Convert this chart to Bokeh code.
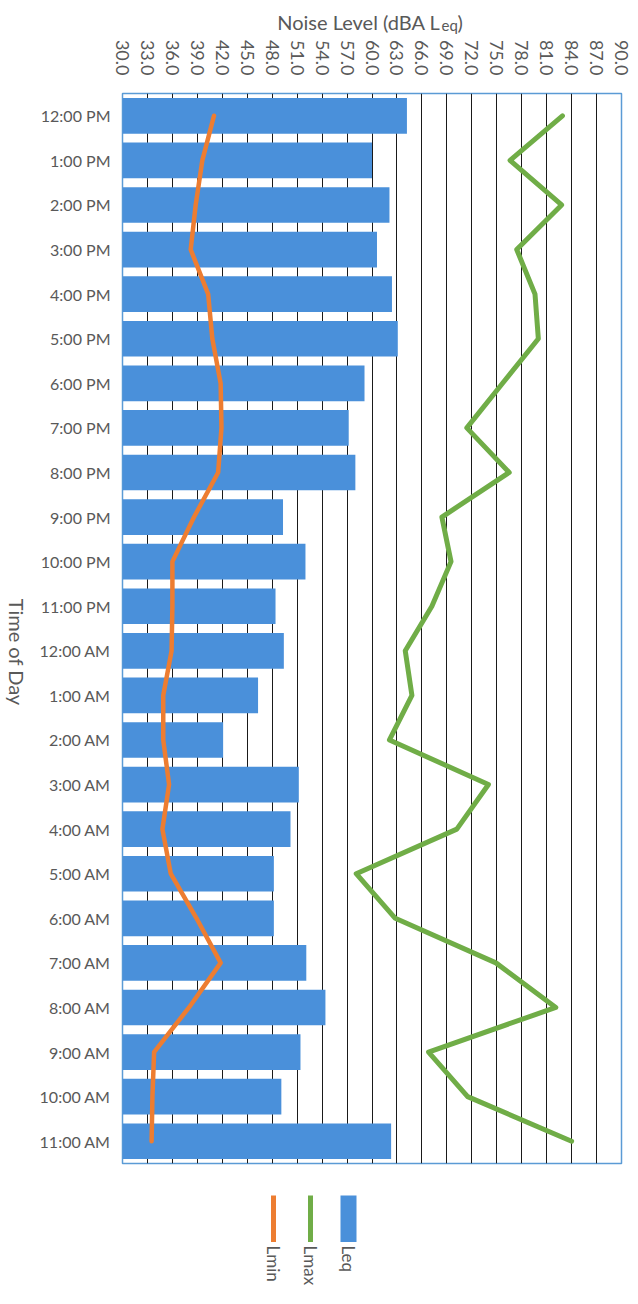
import math
from bokeh.plotting import figure
from bokeh.models import Range1d, FactorRange, FixedTicker, NumeralTickFormatter, ColumnDataSource
from bokeh.layouts import column, row
from bokeh.embed import file_html
from bokeh.resources import INLINE
from bokeh.core.properties import value

# ---------------- data ----------------
times = ["12:00 PM", "1:00 PM", "2:00 PM", "3:00 PM", "4:00 PM", "5:00 PM",
         "6:00 PM", "7:00 PM", "8:00 PM", "9:00 PM", "10:00 PM", "11:00 PM",
         "12:00 AM", "1:00 AM", "2:00 AM", "3:00 AM", "4:00 AM", "5:00 AM",
         "6:00 AM", "7:00 AM", "8:00 AM", "9:00 AM", "10:00 AM", "11:00 AM"]
leq = [64.2, 60.0, 62.1, 60.6, 62.4, 63.1, 59.1, 57.2, 58.0, 49.3, 52.0, 48.4,
       49.4, 46.3, 42.1, 51.2, 50.2, 48.2, 48.2, 52.1, 54.4, 51.4, 49.1, 62.3]
lmax = [82.9, 76.6, 82.8, 77.4, 79.6, 80.0, 75.7, 71.4, 76.5, 68.4, 69.5, 67.2,
        64.0, 64.8, 62.1, 74.0, 70.2, 58.1, 62.8, 74.9, 82.1, 66.8, 71.5, 84.0]
lmin = [41.0, 39.6, 38.8, 38.2, 40.3, 40.8, 41.8, 41.9, 41.5, 38.6, 36.0, 36.0,
        35.9, 34.9, 34.9, 35.6, 34.8, 35.8, 38.9, 41.8, 38.0, 33.8, 33.6, 33.5]
x_ticks = list(range(30, 91, 3))
x_title_main = "Noise Level (dBA L"
x_title_sub = "eq"
x_title_end = ")"
y_title = "Time of Day"
series_names = ["Lmin", "Lmax", "Leq"]

# ---------------- style / layout ----------------
FONT = "Lato"
TEXT = "#595959"
BLUE = "#4A90DA"
GREEN = "#70AD47"
ORANGE = "#ED7D31"
FRAME_W = 500
FRAME_H = 1070
LEFT = 121          # frame left edge on the page
STRIP = 36          # width of the strip holding the y title
RIGHT = 14
TOP = 57
BOTTOM = 7
MAIN_H = TOP + FRAME_H + BOTTOM
TOTAL_W = LEFT + FRAME_W + RIGHT

src = ColumnDataSource(dict(t=times, leq=leq, lmax=lmax, lmin=lmin))


def strip(w, h, left=0, right=0):
    f = figure(width=w, height=h, x_range=Range1d(0, w - left - right), y_range=Range1d(0, h),
               x_axis_location=None, y_axis_location=None, output_backend="svg", toolbar_location=None,
               min_border_left=left, min_border_right=right, min_border_top=0, min_border_bottom=0)
    f.grid.visible = False
    f.outline_line_color = None
    return f


# ---------------- title strip ----------------
tf = strip(TOTAL_W, 36, LEFT, RIGHT)
tf.text(x=[319], y=[15], text=[x_title_main], text_align="right", text_baseline="alphabetic",
        text_font=value(FONT), text_font_size="20px", text_color=TEXT)
tf.text(x=[320], y=[11.5], text=[x_title_sub], text_align="left", text_baseline="alphabetic",
        text_font=value(FONT), text_font_size="15px", text_color=TEXT)
tf.text(x=[336], y=[15], text=[x_title_end], text_align="left", text_baseline="alphabetic",
        text_font=value(FONT), text_font_size="20px", text_color=TEXT)

# ---------------- y title strip ----------------
yf = strip(STRIP, MAIN_H)
yf.text(x=[16], y=[BOTTOM + FRAME_H / 2], text=[y_title], angle=-math.pi / 2,
        text_align="center", text_baseline="middle",
        text_font=value(FONT), text_font_size="20px", text_color=TEXT)

# ---------------- main chart ----------------
p = figure(width=TOTAL_W - STRIP, height=MAIN_H, x_range=Range1d(30, 90),
           y_range=FactorRange(factors=list(reversed(times))), x_axis_location="above",
           output_backend="svg", toolbar_location=None,
           min_border_left=LEFT - STRIP, min_border_right=RIGHT, min_border_top=TOP, min_border_bottom=BOTTOM)
p.outline_line_color = "#5B9BD5"
p.outline_line_width = 1.5
p.xgrid.ticker = FixedTicker(ticks=x_ticks)
p.xgrid.grid_line_color = "#1a1a1a"
p.xgrid.grid_line_width = 1
p.ygrid.grid_line_color = None

p.hbar(y="t", left=30, right="leq", height=0.8, fill_color=BLUE, line_color=None, source=src)
p.line(x="lmax", y="t", source=src, line_color=GREEN, line_width=5, line_join="round", line_cap="round")
p.line(x="lmin", y="t", source=src, line_color=ORANGE, line_width=4.5, line_join="round", line_cap="round")

xa = p.xaxis[0]
xa.ticker = FixedTicker(ticks=x_ticks)
xa.formatter = NumeralTickFormatter(format="0.0")
xa.major_label_orientation = -math.pi / 2
xa.major_tick_line_color = None
xa.minor_tick_line_color = None
xa.major_tick_in = 0
xa.major_tick_out = 0
xa.axis_line_color = None
xa.major_label_standoff = 18
xa.major_label_text_font = FONT
xa.major_label_text_font_size = "18px"
xa.major_label_text_color = TEXT

ya = p.yaxis[0]
ya.major_tick_line_color = None
ya.minor_tick_line_color = None
ya.major_tick_in = 0
ya.major_tick_out = 0
ya.axis_line_color = None
ya.major_label_standoff = 12
ya.major_label_text_font = FONT
ya.major_label_text_font_size = "16px"
ya.major_label_text_color = TEXT

# ---------------- legend strip ----------------
lf = strip(TOTAL_W, 126, LEFT, RIGHT)
lx = [152, 189, 227]
lf.segment(x0=lx[:2], y0=[101, 101], x1=lx[:2], y1=[54.5, 54.5], line_color=[ORANGE, GREEN], line_width=5)
lf.quad(left=[lx[2] - 8], right=[lx[2] + 8], bottom=[54.5], top=[101], fill_color=BLUE, line_color=None)
lf.text(x=lx, y=[51, 51, 51], text=series_names, angle=-math.pi / 2, text_align="left", text_baseline="middle",
        text_font=value(FONT), text_font_size="17px", text_color=TEXT)

layout = column(tf, row(yf, p), lf)
open("out.html", "w").write(file_html(layout, INLINE))
